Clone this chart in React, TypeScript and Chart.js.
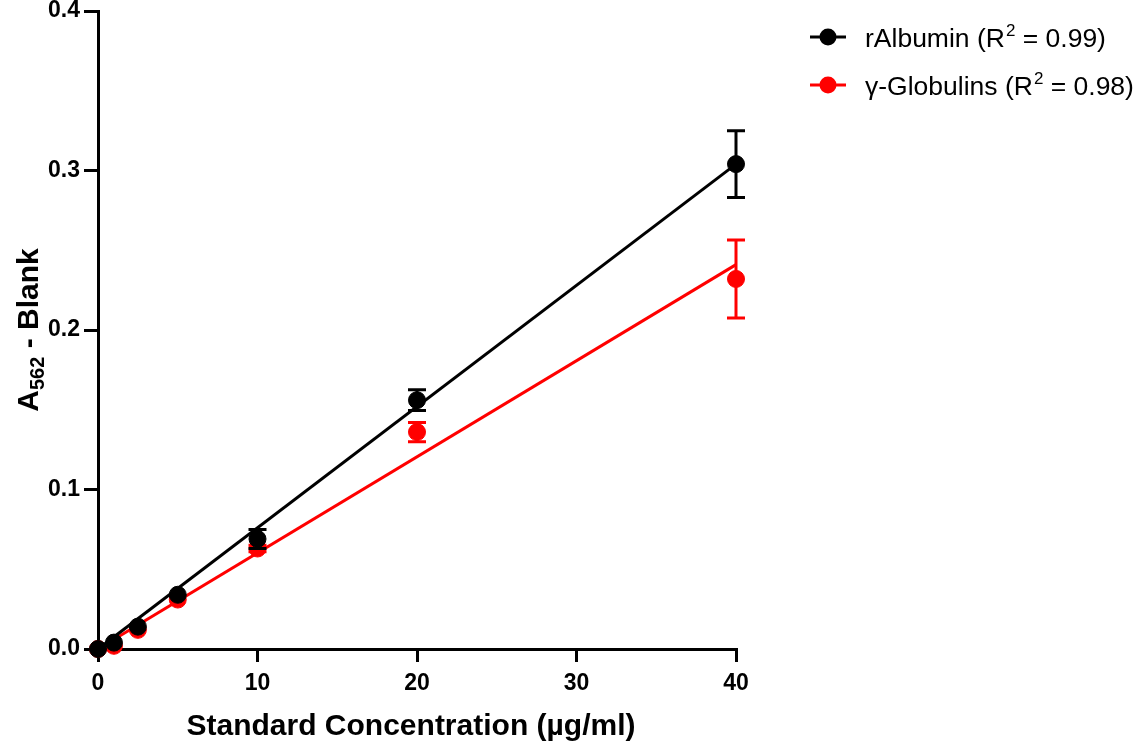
import React, { useEffect, useRef } from 'react';
import { Chart, registerables } from 'chart.js';

Chart.register(...registerables);

const concentrations = [0, 1, 2.5, 5, 10, 20, 40];
const albuminMeans = [0, 0.004, 0.014, 0.034, 0.069, 0.156, 0.304];
const albuminErrors = [0, 0, 0, 0, 0.006, 0.0065, 0.021];
const globulinMeans = [0, 0.002, 0.012, 0.031, 0.063, 0.136, 0.232];
const globulinErrors = [0, 0, 0, 0, 0.002, 0.006, 0.0245];
const fitX = [0, 40];
const albuminFit = [0, 0.304];
const globulinFit = [0, 0.241];
const xTicks = [0, 10, 20, 30, 40];
const yTicks = [0, 0.1, 0.2, 0.3, 0.4];
const legendNames = ['rAlbumin', 'γ-Globulins'];
const legendR2 = ['0.99', '0.98'];
const legendColors = ['#000000', '#ff0000'];

const FONT = '"Liberation Sans", Arial, Helvetica, sans-serif';

const errorBarPlugin = {
  id: 'errorBars',
  afterDatasetDraw(chart: any, args: any) {
    const ds = chart.data.datasets[args.index];
    if (!ds.errors) return;
    const ctx = chart.ctx;
    const xs = chart.scales.x;
    const ys = chart.scales.y;
    ctx.save();
    ctx.strokeStyle = ds.borderColor;
    ctx.lineWidth = 3;
    ds.data.forEach((p: any, i: number) => {
      const e = ds.errors[i];
      if (!e) return;
      const px = xs.getPixelForValue(p.x);
      const top = ys.getPixelForValue(p.y + e);
      const bot = ys.getPixelForValue(p.y - e);
      ctx.beginPath();
      ctx.moveTo(px, top);
      ctx.lineTo(px, bot);
      ctx.moveTo(px - 9, top);
      ctx.lineTo(px + 9, top);
      ctx.moveTo(px - 9, bot);
      ctx.lineTo(px + 9, bot);
      ctx.stroke();
    });
    ctx.restore();
  },
};

const annotationsPlugin = {
  id: 'annotations',
  afterDraw(chart: any) {
    const ctx = chart.ctx;
    const area = chart.chartArea;
    ctx.save();
    ctx.fillStyle = '#000';
    // x title
    ctx.font = `bold 30px ${FONT}`;
    ctx.textAlign = 'center';
    ctx.textBaseline = 'alphabetic';
    ctx.fillText('Standard Concentration (µg/ml)', (area.left + area.right) / 2 - 6, 735);

    // y title with subscript
    ctx.save();
    ctx.translate(38, (area.top + area.bottom) / 2);
    ctx.rotate(-Math.PI / 2);
    ctx.textAlign = 'left';
    ctx.textBaseline = 'alphabetic';
    const big = `bold 30px ${FONT}`;
    const small = `bold 20px ${FONT}`;
    ctx.font = big;
    const wA = ctx.measureText('A').width;
    const wRest = ctx.measureText(' - Blank').width;
    ctx.font = small;
    const wSub = ctx.measureText('562').width;
    const total = wA + wSub + wRest;
    let x = -total / 2;
    const base = 0;
    ctx.font = big;
    ctx.fillText('A', x, base);
    x += wA;
    ctx.font = small;
    ctx.fillText('562', x, base + 6);
    x += wSub;
    ctx.font = big;
    ctx.fillText(' - Blank', x, base);
    ctx.restore();

    // legend
    const rows = [37, 85];
    rows.forEach((cy, i) => {
      const color = legendColors[i];
      ctx.strokeStyle = color;
      ctx.fillStyle = color;
      ctx.lineWidth = 3;
      ctx.beginPath();
      ctx.moveTo(810, cy);
      ctx.lineTo(846, cy);
      ctx.stroke();
      ctx.beginPath();
      ctx.arc(828, cy, 8.5, 0, Math.PI * 2);
      ctx.fill();
      ctx.fillStyle = '#000';
      ctx.textAlign = 'left';
      ctx.textBaseline = 'alphabetic';
      const bl = cy + 10;
      let tx = 865;
      const normal = `26.5px ${FONT}`;
      const sup = `17px ${FONT}`;
      ctx.font = normal;
      const p1 = `${legendNames[i]} (R`;
      ctx.fillText(p1, tx, bl);
      tx += ctx.measureText(p1).width;
      ctx.font = sup;
      ctx.fillText('2', tx + 1, bl - 11);
      tx += ctx.measureText('2').width + 1;
      ctx.font = normal;
      ctx.fillText(` = ${legendR2[i]})`, tx, bl);
    });
    ctx.restore();
  },
};

export default function App() {
  const ref = useRef<HTMLCanvasElement | null>(null);
  useEffect(() => {
    document.body.style.margin = '0';
    const canvas = ref.current;
    if (!canvas) return;
    const pts = (xs: number[], ys: number[]) => xs.map((x, i) => ({ x, y: ys[i] }));
    const chart = new Chart(canvas, {
      type: 'scatter',
      data: {
        datasets: [
          {
            label: 'rAlbumin',
            data: pts(concentrations, albuminMeans),
            errors: albuminErrors,
            borderColor: '#000000',
            backgroundColor: '#000000',
            pointRadius: 8.5,
            pointHoverRadius: 8.5,
            showLine: false,
            clip: false,
            order: 1,
          } as any,
          {
            label: 'rAlbumin fit',
            data: pts(fitX, albuminFit),
            borderColor: '#000000',
            borderWidth: 3,
            pointRadius: 0,
            showLine: true,
            clip: false,
            order: 2,
          },
          {
            label: 'γ-Globulins',
            data: pts(concentrations, globulinMeans),
            errors: globulinErrors,
            borderColor: '#ff0000',
            backgroundColor: '#ff0000',
            pointRadius: 8.5,
            pointHoverRadius: 8.5,
            showLine: false,
            clip: false,
            order: 3,
          } as any,
          {
            label: 'γ-Globulins fit',
            data: pts(fitX, globulinFit),
            borderColor: '#ff0000',
            borderWidth: 3,
            pointRadius: 0,
            showLine: true,
            clip: false,
            order: 4,
          },
        ],
      },
      options: {
        responsive: false,
        animation: false,
        devicePixelRatio: 1,
        layout: { padding: { left: 0, right: 405, top: 11, bottom: 0 } },
        plugins: { legend: { display: false }, tooltip: { enabled: false } },
        scales: {
          x: {
            type: 'linear',
            min: 0,
            max: 40,
            afterBuildTicks: (s: any) => {
              s.ticks = xTicks.map((v) => ({ value: v }));
            },
            ticks: {
              color: '#000',
              font: { family: FONT, size: 23, weight: 'bold' },
              padding: 8,
              maxRotation: 0,
              callback: (v: any) => String(v),
            },
            grid: { drawOnChartArea: false, drawTicks: true, tickLength: 13, lineWidth: 3, color: '#000' },
            border: { display: true, width: 3, color: '#000' },
            afterFit: (s: any) => {
              s.height = 95;
              s.paddingLeft = 0;
              s.paddingRight = 0;
            },
          },
          y: {
            type: 'linear',
            min: 0,
            max: 0.4,
            afterBuildTicks: (s: any) => {
              s.ticks = yTicks.map((v) => ({ value: v }));
            },
            ticks: {
              color: '#000',
              font: { family: FONT, size: 23, weight: 'bold' },
              padding: 4,
              callback: (v: any) => Number(v).toFixed(1),
            },
            grid: { drawOnChartArea: false, drawTicks: true, tickLength: 14, lineWidth: 3, color: '#000' },
            border: { display: true, width: 3, color: '#000' },
            afterFit: (s: any) => {
              s.width = 98;
              s.paddingTop = 0;
              s.paddingBottom = 0;
            },
          },
        },
      } as any,
      plugins: [errorBarPlugin, annotationsPlugin],
    });
    return () => chart.destroy();
  }, []);
  return (
    <div style={{ position: 'fixed', left: 0, top: 0, width: 1141, height: 744, background: '#fff' }}>
      <canvas ref={ref} width={1141} height={744} />
    </div>
  );
}
